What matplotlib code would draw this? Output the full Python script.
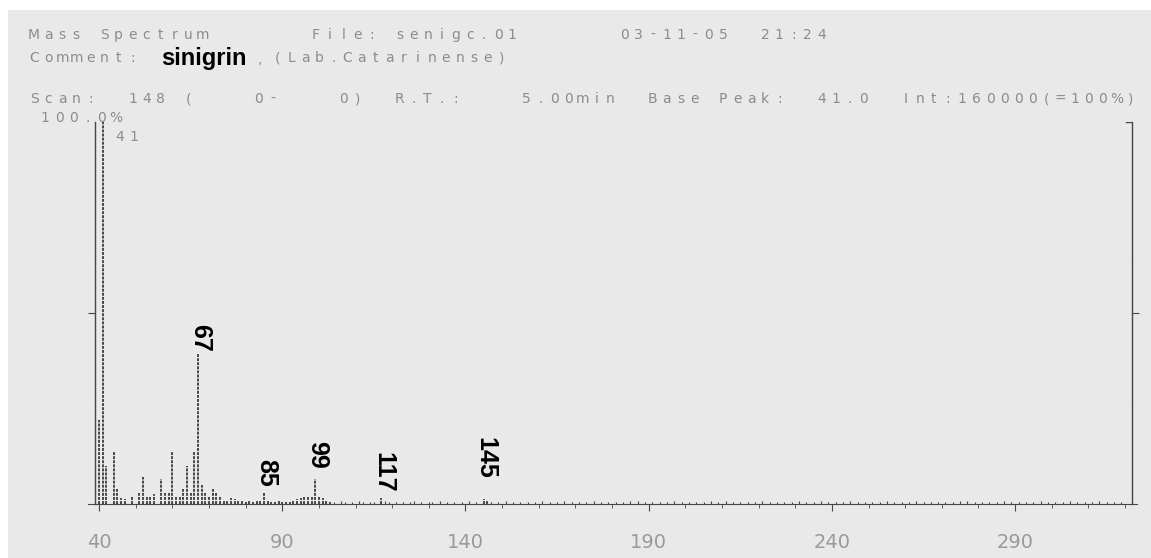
import matplotlib
matplotlib.use("Agg")
import matplotlib.pyplot as plt
from matplotlib.patches import Rectangle
from matplotlib.lines import Line2D
from matplotlib.ticker import MultipleLocator

# spectrum: m/z and relative intensity (% of base peak)
mz = [39, 40, 41, 42, 44, 45, 46, 47, 49, 51, 52, 53, 54, 55, 57, 58, 59,
      60, 61, 62, 63, 64, 65, 66, 67, 68, 69, 70, 71, 72, 73, 74, 75, 76,
      77, 78, 79, 80, 81, 82, 83, 84, 85, 86, 87, 88, 89, 90, 91, 92, 93,
      94, 95, 96, 97, 98, 99, 100, 101, 102, 103, 117, 145, 146]
intensity = [24, 22, 100, 10, 14, 4, 1.5, 1.2, 2, 3, 7, 2, 2.2, 2.5, 6.6, 3, 3,
             13.7, 2, 2, 4, 10, 3, 14, 39.5, 5, 3, 2, 4, 3, 2, 1, 1, 1.5,
             1.2, 0.8, 1, 0.6, 0.8, 0.5, 0.7, 1, 3, 1, 0.6, 0.5, 0.8, 0.4, 0.6, 0.5, 0.8,
             1.2, 1.5, 1.8, 2, 2.2, 6.5, 2, 1.5, 0.8, 0.6, 1.5, 1.3, 0.8]

# low level background ions above m/z 103
noise_mz = [104, 106, 107, 109, 111, 112, 114, 115, 118, 119, 121, 123, 125, 126,
            128, 130, 131, 133, 135, 137, 139, 141, 143, 147, 149, 151, 153, 155,
            157, 159, 161, 163, 165, 167, 169, 171, 173, 175, 177, 179, 181, 183,
            185, 187, 189, 191, 193, 195, 197, 199, 201, 203, 205, 207, 209, 211,
            213, 215, 217, 219, 221, 223, 225, 227, 229, 231, 233, 235, 237, 239,
            241, 243, 245, 247, 249, 251, 253, 255, 257, 259, 261, 263, 265, 267,
            269, 271, 273, 275, 277, 279, 281, 283, 285, 287, 289, 291, 293, 295,
            297, 299, 301, 303, 305, 307, 309, 311, 313, 315, 317, 319]
noise_pct = [0.5, 0.7, 0.4, 0.6, 0.8, 0.5, 0.6, 0.4, 0.7, 0.5, 0.6, 0.4, 0.5, 0.8,
             0.6, 0.4, 0.5, 0.7, 0.5, 0.6, 0.4, 0.8, 0.5, 0.6, 0.4, 0.7, 0.5, 0.6,
             0.5, 0.4, 0.7, 0.5, 0.6, 0.8, 0.5, 0.4, 0.6, 0.7, 0.5, 0.4, 0.6, 0.5,
             0.7, 0.8, 0.5, 0.6, 0.4, 0.5, 0.7, 0.6, 0.5, 0.4, 0.6, 0.7, 0.5, 0.8,
             0.6, 0.5, 0.4, 0.6, 0.7, 0.5, 0.6, 0.4, 0.5, 0.8, 0.6, 0.5, 0.7, 0.4,
             0.5, 0.6, 0.7, 0.5, 0.4, 0.6, 0.5, 0.8, 0.6, 0.4, 0.5, 0.7, 0.6, 0.5,
             0.4, 0.6, 0.5, 0.7, 0.8, 0.5, 0.4, 0.6, 0.5, 0.7, 0.6, 0.4, 0.5, 0.6,
             0.7, 0.5, 0.4, 0.6, 0.8, 0.5, 0.6, 0.4, 0.7, 0.5, 0.6, 0.5]

# annotated ions and where their labels sit (% height of label foot)
label_mz = [67, 85, 99, 117, 145]
label_pos = [39.8, 4.5, 9.2, 2.9, 6.5]

x_ticks = [40, 90, 140, 190, 240, 290]

W, H = 1151, 558
GREY = "#8c8c8c"
INK = "#474747"
PITCH = 14.06   # printer column width in pixels
COL0 = 27


def fx(px):
    return px / W


def fy(py):
    return 1 - py / H


fig = plt.figure(figsize=(W / 100, H / 100), dpi=100, facecolor="white")
fig.patches.append(Rectangle((8 / W, 0), 1, 1 - 10 / H, transform=fig.transFigure,
                             facecolor="#e9e9e9", edgecolor="none", zorder=-10))


def printed(col, y, s, size=10, x0=None):
    # printer style text: one character per column
    start = COL0 + col * PITCH if x0 is None else x0
    for i, ch in enumerate(s):
        if ch != " ":
            fig.text(fx(start + (i + 0.5) * PITCH), fy(y), ch, ha="center", va="center",
                     family="DejaVu Sans", fontsize=size, color=GREY)


# header block
printed(0, 35, "Mass Spectrum       File: senigc.01")
printed(42, 35, "03-11-05  21:24")
printed(0, 58, "Comment:")
fig.text(fx(161), fy(58), "sinigrin", ha="left", va="center", family="Liberation Sans",
         fontweight="bold", fontsize=17, color="black")
printed(0, 59, ",", x0=253)
printed(0, 58, "(Lab.Catarinense)", x0=270)
printed(0, 99, "Scan:  148 (    0-    0)  R.T.:    5.00min  Base Peak:  41.0  Int:160000(=100%)")
printed(0, 118, "100.0%", x0=38)

ax = fig.add_axes([fx(95), fy(504), fx(1132) - fx(95), fy(122) - fy(504)])
ax.set_facecolor("none")
ax.set_xlim(38.9, 321.9)
ax.set_ylim(0, 100)

ax.vlines(noise_mz, 0, noise_pct, color=INK, lw=0.8)
ax.vlines(mz, 0, intensity, color=INK, lw=1.4, linestyles=(0, (1.5, 0.6)))
ax.axhline(0, color=INK, lw=0.8, xmin=-0.007, xmax=1.005, clip_on=False)

for m, pos in zip(label_mz, label_pos):
    ax.text(m + 0.5, pos, str(m), rotation=270, ha="center", va="bottom",
            family=["Liberation Sans Narrow", "DejaVu Sans Condensed", "Liberation Sans"],
            fontweight="bold", fontsize=18, color="black")
printed(0, 137, "41", x0=113)

ax.spines["top"].set_visible(False)
ax.spines["bottom"].set_visible(False)
for side in ["left", "right"]:
    ax.spines[side].set_color(INK)
    ax.spines[side].set_linewidth(1.0)
    ax.spines[side].set_linestyle((0, (2, 0.8)))
ax.add_line(Line2D([0.994, 1.0], [1.0, 1.0], transform=ax.transAxes, color=INK, lw=1.0))

ax.set_yticks([50])
ax.set_yticklabels([])
ax.tick_params(axis="y", which="both", left=True, right=True, length=5, color=INK)

ax.set_xticks(x_ticks)
ax.xaxis.set_minor_locator(MultipleLocator(10))
ax.tick_params(axis="x", which="major", length=5, color=INK, pad=16, labelsize=14,
               labelcolor="#9a9a9a")
ax.tick_params(axis="x", which="minor", length=3, color=INK)
for lab in ax.get_xticklabels():
    lab.set_family("DejaVu Sans")

fig.savefig("out.png", dpi=100, facecolor=fig.get_facecolor())
